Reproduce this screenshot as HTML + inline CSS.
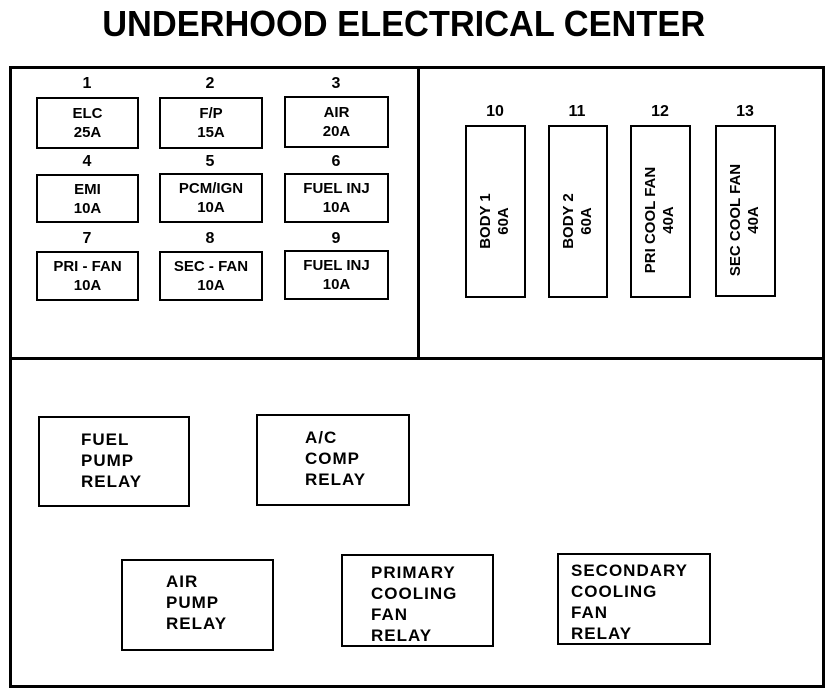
<!DOCTYPE html>
<html><head><meta charset="utf-8"><style>
html,body{margin:0;padding:0;background:#fff;}
body{width:832px;height:692px;position:relative;overflow:hidden;font-family:"Liberation Sans",sans-serif;font-weight:bold;color:#000;}
.a{position:absolute;}
.b{position:absolute;border:2.5px solid #000;box-sizing:border-box;}
.f{display:flex;align-items:center;justify-content:center;text-align:center;font-size:15px;line-height:19px;}
.n{position:absolute;font-size:16px;text-align:center;width:40px;}
.r{font-size:17px;line-height:21px;letter-spacing:1px;}
.v{position:absolute;transform:rotate(-90deg);transform-origin:center;text-align:center;font-size:15px;line-height:18px;white-space:nowrap;}
</style></head><body>
<div class="a" style="left:-12px;top:5px;width:832px;text-align:center;font-size:36px;line-height:38px;"><span style="display:inline-block;transform:scaleX(0.955);letter-spacing:0px;">UNDERHOOD ELECTRICAL CENTER</span></div>
<div class="b" style="left:9px;top:66px;width:816px;height:622px;border-width:3px;"></div>
<div class="a" style="left:9px;top:357px;width:816px;height:3px;background:#000;"></div>
<div class="a" style="left:417px;top:66px;width:3px;height:293px;background:#000;"></div>

<div class="n" style="left:67px;top:75px;">1</div>
<div class="n" style="left:190px;top:75px;">2</div>
<div class="n" style="left:316px;top:75px;">3</div>
<div class="b f" style="left:36px;top:97px;width:103px;height:52px;">ELC<br>25A</div>
<div class="b f" style="left:159px;top:97px;width:104px;height:52px;">F/P<br>15A</div>
<div class="b f" style="left:284px;top:96px;width:105px;height:52px;">AIR<br>20A</div>

<div class="n" style="left:67px;top:153px;">4</div>
<div class="n" style="left:190px;top:153px;">5</div>
<div class="n" style="left:316px;top:153px;">6</div>
<div class="b f" style="left:36px;top:174px;width:103px;height:49px;">EMI<br>10A</div>
<div class="b f" style="left:159px;top:173px;width:104px;height:50px;">PCM/IGN<br>10A</div>
<div class="b f" style="left:284px;top:173px;width:105px;height:50px;">FUEL INJ<br>10A</div>

<div class="n" style="left:67px;top:230px;">7</div>
<div class="n" style="left:190px;top:230px;">8</div>
<div class="n" style="left:316px;top:230px;">9</div>
<div class="b f" style="left:36px;top:251px;width:103px;height:50px;">PRI - FAN<br>10A</div>
<div class="b f" style="left:159px;top:251px;width:104px;height:50px;">SEC - FAN<br>10A</div>
<div class="b f" style="left:284px;top:250px;width:105px;height:50px;">FUEL INJ<br>10A</div>

<div class="n" style="left:475px;top:103px;">10</div>
<div class="n" style="left:557px;top:103px;">11</div>
<div class="n" style="left:640px;top:103px;">12</div>
<div class="n" style="left:725px;top:103px;">13</div>
<div class="b" style="left:465px;top:125px;width:61px;height:173px;"></div>
<div class="b" style="left:548px;top:125px;width:60px;height:173px;"></div>
<div class="b" style="left:630px;top:125px;width:61px;height:173px;"></div>
<div class="b" style="left:715px;top:125px;width:61px;height:172px;"></div>
<div class="v" style="left:435px;top:203px;width:120px;">BODY 1<br>60A</div>
<div class="v" style="left:518px;top:203px;width:120px;">BODY 2<br>60A</div>
<div class="v" style="left:590px;top:202px;width:140px;">PRI COOL FAN<br>40A</div>
<div class="v" style="left:675px;top:202px;width:140px;">SEC COOL FAN<br>40A</div>

<div class="b" style="left:38px;top:416px;width:152px;height:91px;"></div>
<div class="a r" style="left:81px;top:429px;">FUEL<br>PUMP<br>RELAY</div>
<div class="b" style="left:256px;top:414px;width:154px;height:92px;"></div>
<div class="a r" style="left:305px;top:427px;">A/C<br>COMP<br>RELAY</div>
<div class="b" style="left:121px;top:559px;width:153px;height:92px;"></div>
<div class="a r" style="left:166px;top:571px;">AIR<br>PUMP<br>RELAY</div>
<div class="b" style="left:341px;top:554px;width:153px;height:93px;"></div>
<div class="a r" style="left:371px;top:562px;">PRIMARY<br>COOLING<br>FAN<br>RELAY</div>
<div class="b" style="left:557px;top:553px;width:154px;height:92px;"></div>
<div class="a r" style="left:571px;top:560px;">SECONDARY<br>COOLING<br>FAN<br>RELAY</div>
</body></html>
